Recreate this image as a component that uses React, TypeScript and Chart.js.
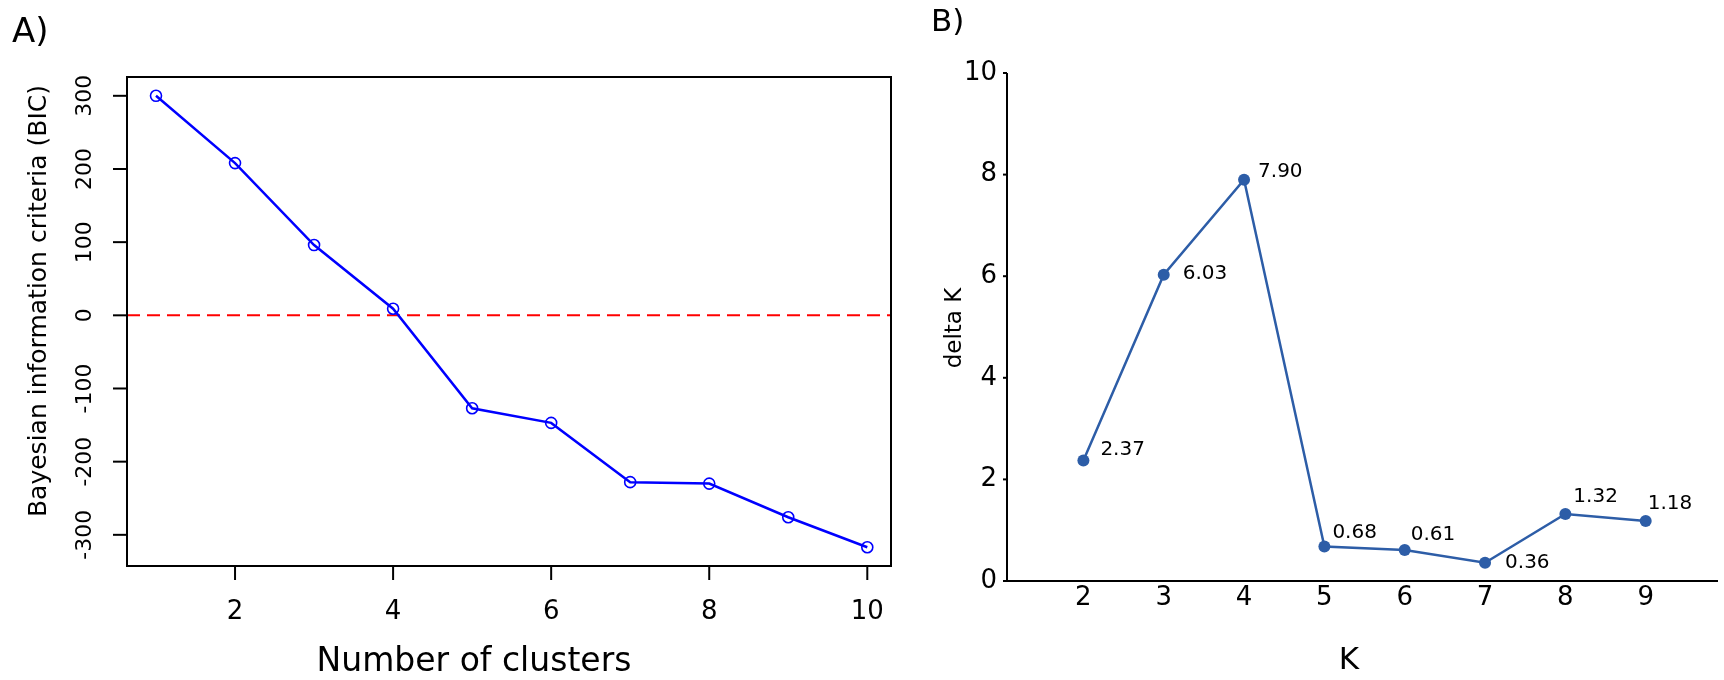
import React, { useEffect, useRef } from "react";
import { Chart, registerables } from "chart.js";

Chart.register(...registerables);

// ---------- Panel A data ----------
const clustersA = [1, 2, 3, 4, 5, 6, 7, 8, 9, 10];
const bicA = [300, 208, 96, 9, -127, -147, -228, -230, -276, -317];
const refLineA = 0;
const xTicksA = [2, 4, 6, 8, 10];
const yTicksA = [-300, -200, -100, 0, 100, 200, 300];

// ---------- Panel B data ----------
const kB = [2, 3, 4, 5, 6, 7, 8, 9];
const deltaKB = [2.37, 6.03, 7.9, 0.68, 0.61, 0.36, 1.32, 1.18];
const xTicksB = [2, 3, 4, 5, 6, 7, 8, 9];
const yTicksB = [0, 2, 4, 6, 8, 10];

// label placement offsets (styling) for panel B value labels
const labelOffsetsB = [
  [17, -11],
  [19, -1],
  [14, -8],
  [8, -14],
  [6, -15],
  [20, 0],
  [8, -17],
  [2, -17],
];

const FONT = "'DejaVu Sans', 'Noto Sans', sans-serif";

const panelAPlugin = {
  id: "panelA",
  beforeDatasetsDraw(chart: any) {
    const { ctx, chartArea: a, scales } = chart;
    const py = scales.y.getPixelForValue(refLineA);
    ctx.save();
    ctx.strokeStyle = "#ff0000";
    ctx.lineWidth = 2;
    ctx.setLineDash([13, 7]);
    ctx.beginPath();
    ctx.moveTo(a.left, py);
    ctx.lineTo(a.right, py);
    ctx.stroke();
    ctx.restore();
  },
  afterDraw(chart: any) {
    const { ctx, chartArea: a, scales } = chart;
    const xs = scales.x;
    const ys = scales.y;
    ctx.save();
    ctx.strokeStyle = "#000";
    ctx.lineWidth = 2;
    ctx.strokeRect(a.left, a.top, a.right - a.left, a.bottom - a.top);
    // x ticks
    ctx.fillStyle = "#000";
    ctx.font = `26px ${FONT}`;
    ctx.textAlign = "center";
    ctx.textBaseline = "middle";
    xTicksA.forEach((v) => {
      const px = xs.getPixelForValue(v);
      ctx.beginPath();
      ctx.moveTo(px, a.bottom);
      ctx.lineTo(px, a.bottom + 14);
      ctx.stroke();
      ctx.fillText(String(v), px, a.bottom + 46);
    });
    // y ticks
    ctx.font = `22px ${FONT}`;
    yTicksA.forEach((v) => {
      const py = ys.getPixelForValue(v);
      ctx.beginPath();
      ctx.moveTo(a.left - 14, py);
      ctx.lineTo(a.left, py);
      ctx.stroke();
      ctx.save();
      ctx.translate(a.left - 42, py);
      ctx.rotate(-Math.PI / 2);
      ctx.fillText(String(v), 0, 0);
      ctx.restore();
    });
    // axis titles
    ctx.font = `25px ${FONT}`;
    ctx.save();
    ctx.translate(39, 301);
    ctx.rotate(-Math.PI / 2);
    ctx.fillText("Bayesian information criteria (BIC)", 0, 0);
    ctx.restore();
    ctx.font = `33px ${FONT}`;
    ctx.fillText("Number of clusters", 474, 662);
    // panel tag
    ctx.font = `34px ${FONT}`;
    ctx.textAlign = "left";
    ctx.textBaseline = "alphabetic";
    ctx.fillText("A)", 12, 42);
    ctx.restore();
  },
};

const panelBPlugin = {
  id: "panelB",
  afterDraw(chart: any) {
    const { ctx, chartArea: a, scales } = chart;
    const xs = scales.x;
    const ys = scales.y;
    ctx.save();
    ctx.strokeStyle = "#000";
    ctx.lineWidth = 2;
    ctx.beginPath();
    ctx.moveTo(a.left, a.top);
    ctx.lineTo(a.left, a.bottom);
    ctx.lineTo(a.right, a.bottom);
    ctx.stroke();
    ctx.fillStyle = "#000";
    ctx.font = `26px ${FONT}`;
    ctx.textAlign = "right";
    ctx.textBaseline = "middle";
    yTicksB.forEach((v) => {
      const py = ys.getPixelForValue(v);
      ctx.beginPath();
      ctx.moveTo(a.left - 4, py);
      ctx.lineTo(a.left, py);
      ctx.stroke();
      ctx.fillText(String(v), a.left - 10, py);
    });
    ctx.textAlign = "center";
    xTicksB.forEach((v) => {
      const px = xs.getPixelForValue(v);
      ctx.fillText(String(v), px, a.bottom + 17);
    });
    // value labels
    ctx.font = `20px ${FONT}`;
    ctx.textAlign = "left";
    kB.forEach((k, i) => {
      const px = xs.getPixelForValue(k);
      const py = ys.getPixelForValue(deltaKB[i]);
      const [dx, dy] = labelOffsetsB[i];
      ctx.fillText(deltaKB[i].toFixed(2), px + dx, py + dy);
    });
    // axis titles
    ctx.textAlign = "center";
    ctx.font = `23px ${FONT}`;
    ctx.save();
    ctx.translate(55, 328);
    ctx.rotate(-Math.PI / 2);
    ctx.fillText("delta K", 0, 0);
    ctx.restore();
    ctx.font = `31px ${FONT}`;
    ctx.fillText("K", 449, 661);
    ctx.font = `31px ${FONT}`;
    ctx.textAlign = "left";
    ctx.textBaseline = "alphabetic";
    ctx.fillText("B)", 31, 31);
    ctx.restore();
  },
};

function ChartCanvas({ config, width, height }: { config: any; width: number; height: number }) {
  const ref = useRef<HTMLCanvasElement | null>(null);
  useEffect(() => {
    if (!ref.current) return;
    const chart = new Chart(ref.current, config);
    return () => chart.destroy();
  }, [config]);
  return <canvas ref={ref} width={width} height={height} style={{ display: "block", width, height }} />;
}

const configA = {
  type: "line",
  data: {
    datasets: [
      {
        data: clustersA.map((x, i) => ({ x, y: bicA[i] })),
        borderColor: "#0000ff",
        borderWidth: 2.5,
        pointRadius: 5.5,
        pointBorderWidth: 1.6,
        pointBorderColor: "#0000ff",
        pointBackgroundColor: "rgba(0,0,0,0)",
        fill: false,
        tension: 0,
      },
    ],
  },
  options: {
    responsive: false,
    animation: false,
    layout: { padding: { top: 77, right: 9, left: 0, bottom: 0 } },
    plugins: { legend: { display: false }, tooltip: { enabled: false } },
    scales: {
      x: {
        type: "linear",
        min: 0.633,
        max: 10.3,
        grid: { display: false },
        border: { display: false },
        ticks: { display: false },
        afterFit: (s: any) => {
          s.height = 114;
        },
      },
      y: {
        type: "linear",
        min: -342.6,
        max: 325.7,
        grid: { display: false },
        border: { display: false },
        ticks: { display: false },
        afterFit: (s: any) => {
          s.width = 127;
        },
      },
    },
  },
  plugins: [panelAPlugin],
};

const configB = {
  type: "line",
  data: {
    datasets: [
      {
        data: kB.map((x, i) => ({ x, y: deltaKB[i] })),
        borderColor: "#2d5da7",
        borderWidth: 2.5,
        pointRadius: 6,
        pointBorderWidth: 0,
        pointBackgroundColor: "#2d5da7",
        fill: false,
        tension: 0,
        clip: false,
      },
    ],
  },
  options: {
    responsive: false,
    animation: false,
    layout: { padding: { top: 73, right: 0, left: 0, bottom: 0 } },
    plugins: { legend: { display: false }, tooltip: { enabled: false } },
    scales: {
      x: {
        type: "linear",
        min: 1.049,
        max: 9.9,
        grid: { display: false },
        border: { display: false },
        ticks: { display: false },
        afterFit: (s: any) => {
          s.height = 99;
        },
      },
      y: {
        type: "linear",
        min: 0,
        max: 10,
        grid: { display: false },
        border: { display: false },
        ticks: { display: false },
        afterFit: (s: any) => {
          s.width = 107;
        },
      },
    },
  },
  plugins: [panelBPlugin],
};

export default function App() {
  return (
    <div
      style={{
        position: "fixed",
        left: 0,
        top: 0,
        width: 1724,
        height: 680,
        background: "#fff",
        display: "flex",
        flexDirection: "row",
      }}
    >
      <ChartCanvas config={configA} width={900} height={680} />
      <ChartCanvas config={configB} width={824} height={680} />
    </div>
  );
}
